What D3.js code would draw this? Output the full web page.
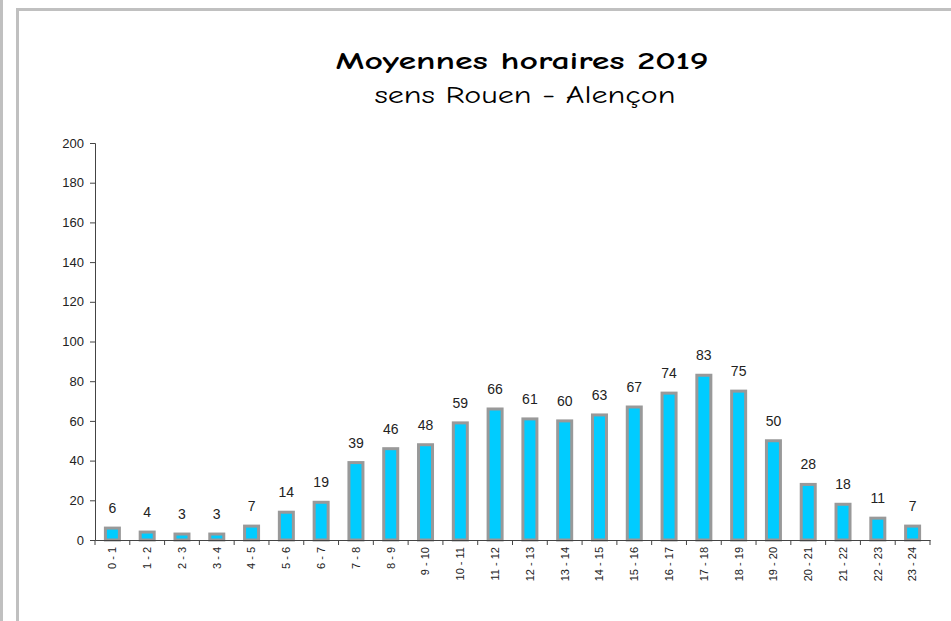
<!DOCTYPE html>
<html>
<head>
<meta charset="utf-8">
<script src="https://cdn.jsdelivr.net/npm/d3@7"></script>
<style>
body { margin: 0; background: #fff; }
svg { display: block; }
</style>
</head>
<body>
<svg></svg>
<script>
var categories = ["0 - 1", "1 - 2", "2 - 3", "3 - 4", "4 - 5", "5 - 6", "6 - 7", "7 - 8", "8 - 9", "9 - 10",
  "10 - 11", "11 - 12", "12 - 13", "13 - 14", "14 - 15", "15 - 16", "16 - 17", "17 - 18", "18 - 19",
  "19 - 20", "20 - 21", "21 - 22", "22 - 23", "23 - 24"];
var values = [6, 4, 3, 3, 7, 14, 19, 39, 46, 48, 59, 66, 61, 60, 63, 67, 74, 83, 75, 50, 28, 18, 11, 7];
var yTicks = [0, 20, 40, 60, 80, 100, 120, 140, 160, 180, 200];

var svgWidth = 951, svgHeight = 621;
var plotLeft = 95, plotRight = 930, plotTop = 143, plotBottom = 540;

var svg = d3.select('svg')
  .attr('width', svgWidth)
  .attr('height', svgHeight);

// frames
svg.append("line").attr("x1", 1.5).attr("y1", 0).attr("x2", 1.5).attr("y2", svgHeight)
  .attr("stroke", "#c0c0c0").attr("stroke-width", 3);
svg.append("path").attr("d", "M17.5," + svgHeight + "V9.5H" + svgWidth)
  .attr("fill", "none").attr("stroke", "#c0c0c0").attr("stroke-width", 3);

// titles
var titleFont = "'Comic Sans MS', 'Comic Neue', 'DejaVu Sans', sans-serif";
svg.append("text").text("Moyennes horaires 2019")
  .attr("x", 522).attr("y", 69)
  .attr("text-anchor", "middle")
  .attr("font-family", titleFont)
  .attr("font-weight", "bold")
  .attr("font-size", "25px")
  .attr("textLength", 373)
  .attr("lengthAdjust", "spacingAndGlyphs");
svg.append("text").text("sens Rouen - Alençon")
  .attr("x", 525).attr("y", 103)
  .attr("text-anchor", "middle")
  .attr("font-family", titleFont)
  .attr("font-size", "24px")
  .attr("textLength", 301)
  .attr("lengthAdjust", "spacingAndGlyphs");

var x = d3.scaleBand().domain(categories).range([plotLeft, plotRight]);
var y = d3.scaleLinear().domain([0, 200]).range([plotBottom, plotTop]);

// y axis
var yAxis = svg.append("g")
  .attr("transform", "translate(" + plotLeft + ",0)")
  .call(d3.axisLeft(y).tickValues(yTicks).tickSize(5).tickPadding(6).tickFormat(d3.format("d")));
yAxis.selectAll("text").attr("font-family", "Arial, 'Liberation Sans', sans-serif").attr("font-size", "13px").attr("fill", "#222");
yAxis.select(".domain").attr("stroke", "#444");
yAxis.selectAll(".tick line").attr("stroke", "#444");

// bars
var barW = 14;
svg.selectAll("rect.bar")
  .data(values)
  .enter()
  .append("rect")
  .attr("class", "bar")
  .attr("x", function (d, i) { return x(categories[i]) + x.bandwidth() / 2 - barW / 2; })
  .attr("y", function (d) { return y(d); })
  .attr("width", barW)
  .attr("height", function (d) { return plotBottom - y(d); })
  .style("fill", "#00ccff")
  .style("stroke", "#999999")
  .style("stroke-width", 3);

// x axis
var xAxis = svg.append("g")
  .attr("transform", "translate(0," + plotBottom + ")")
  .call(d3.axisBottom(x).tickSize(0).tickPadding(0));
xAxis.select(".domain").attr("stroke", "#444");
xAxis.selectAll(".tick text")
  .attr("transform", "rotate(-90)")
  .attr("x", -7).attr("y", 0).attr("dy", "0.35em")
  .attr("text-anchor", "end")
  .attr("font-family", "Arial, 'Liberation Sans', sans-serif")
  .attr("font-size", "11px")
  .attr("fill", "#222");
// ticks between categories
xAxis.selectAll("line.sep")
  .data(categories.concat(["end"]))
  .enter()
  .append("line")
  .attr("class", "sep")
  .attr("x1", function (d, i) { return plotLeft + i * x.bandwidth(); })
  .attr("x2", function (d, i) { return plotLeft + i * x.bandwidth(); })
  .attr("y1", 0).attr("y2", 5)
  .attr("stroke", "#444");

// value labels
svg.selectAll("text.val")
  .data(values)
  .enter()
  .append("text")
  .attr("class", "val")
  .text(function (d) { return d; })
  .attr("x", function (d, i) { return x(categories[i]) + x.bandwidth() / 2; })
  .attr("y", function (d) { return y(d) - 15; })
  .attr("text-anchor", "middle")
  .attr("font-family", "Arial, 'Liberation Sans', sans-serif")
  .attr("font-size", "14px")
  .attr("fill", "#222");
</script>
</body>
</html>
